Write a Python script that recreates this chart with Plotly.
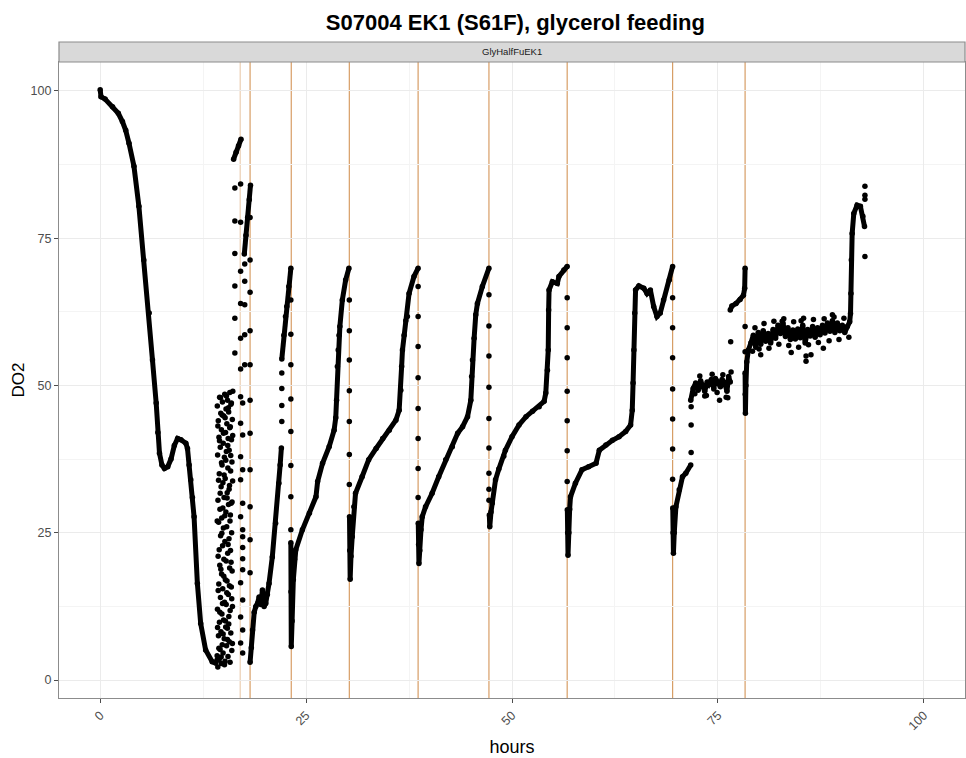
import plotly.graph_objects as go

# ---- Dissolved oxygen (DO2, %) against culture time (hours) ----

# batch phase: initial oxygen consumption and first glycerol depletion
batch_hours = [0.0, 0.1, 0.6, 1.5, 2.2, 2.7, 3.1, 3.5, 4.1, 4.7, 5.3, 5.95, 6.35, 6.8, 7.0, 7.2,
               7.5, 7.8, 8.2, 8.6, 9.0, 9.4, 9.8, 10.4, 10.6, 10.8, 11.0, 11.2, 11.4, 11.8, 12.2,
               12.8, 13.6, 14.0, 14.2]
batch_do2 = [100.2, 99.0, 98.6, 97.3, 96.2, 94.8, 93.3, 91.1, 87.2, 80.4, 71.3, 62.3, 54.3, 47.0, 42.0, 38.5,
             36.5, 35.9, 36.2, 37.5, 39.8, 41.0, 40.8, 40.2, 39.3, 36.5, 34.0, 31.0, 27.7, 16.4, 9.6,
             5.1, 3.1, 2.9, 3.4]

# unstable controller period before the first feed
noise_hours = [14.20, 14.22, 14.24, 14.26, 14.28, 14.30, 14.32, 14.34, 14.36, 14.38, 14.40, 14.42,
               14.44, 14.46, 14.48, 14.50, 14.52, 14.54, 14.56, 14.58, 14.60, 14.62, 14.64, 14.66,
               14.68, 14.70, 14.72, 14.74, 14.76, 14.78, 14.80, 14.82, 14.84, 14.86, 14.88, 14.90,
               14.92, 14.94, 14.96, 14.98, 15.00, 15.02, 15.04, 15.06, 15.08, 15.10, 15.12, 15.14,
               15.16, 15.18, 15.20, 15.22, 15.24, 15.26, 15.28, 15.30, 15.32, 15.34, 15.36, 15.38,
               15.40, 15.42, 15.44, 15.46, 15.48, 15.50, 15.52, 15.54, 15.56, 15.58, 15.60, 15.62,
               15.64, 15.66, 15.68, 15.70, 15.72, 15.74, 15.76, 15.78, 15.80, 15.82, 15.84, 15.86,
               15.88, 15.90, 15.92, 15.94, 15.96, 15.98, 16.00, 16.02, 16.04, 16.06, 16.08, 16.10,
               14.21, 14.25, 14.29, 14.33, 14.37, 14.41, 14.45, 14.49, 14.53, 14.57, 14.61, 14.65,
               14.69, 14.73, 14.77, 14.81, 14.85, 14.89, 14.93, 14.97, 15.01, 15.05, 15.09, 15.13,
               15.17, 15.21, 15.25, 15.29, 15.33, 15.37, 15.41, 15.45, 15.49, 15.53, 15.57, 15.61,
               15.65, 15.69, 15.73, 15.77, 15.81, 15.85, 15.89, 15.93, 15.97, 16.01, 16.05, 16.09]
noise_do2 = [4.1, 46.5, 12.0, 38.2, 2.2, 30.5, 21.0, 44.0, 7.5, 26.8, 16.3, 41.2,
             3.5, 35.0, 9.8, 48.0, 19.5, 29.0, 5.2, 39.5, 14.0, 24.5, 45.3, 8.2,
             32.8, 2.8, 42.5, 18.0, 27.5, 11.2, 36.5, 6.0, 47.2, 22.8, 15.5, 33.5,
             4.6, 40.2, 25.8, 10.2, 44.8, 20.5, 31.0, 7.0, 37.8, 13.2, 48.5, 23.5,
             3.2, 34.2, 17.0, 42.0, 9.0, 28.5, 46.0, 12.8, 38.8, 5.8, 26.0, 43.5,
             16.8, 31.8, 8.8, 47.5, 21.5, 36.0, 4.0, 41.0, 14.5, 29.8, 45.5, 10.8,
             24.0, 39.0, 6.5, 33.0, 19.0, 48.8, 27.0, 11.8, 43.0, 22.0, 35.5, 8.0,
             46.8, 30.0, 15.8, 40.8, 25.0, 5.0, 37.0, 18.5, 44.2, 12.5, 33.8, 49.0,
             27.0, 8.9, 43.1, 15.2, 33.9, 5.4, 22.1, 40.6, 11.5, 31.7, 47.9, 18.8,
             3.9, 36.9, 24.9, 45.0, 13.0, 29.2, 7.8, 41.9, 17.6, 34.8, 2.6, 27.9,
             44.5, 10.0, 37.3, 20.2, 48.2, 14.8, 30.9, 6.9, 39.8, 23.0, 46.2, 9.5,
             32.4, 16.0, 42.8, 3.0, 28.0, 38.1, 20.0, 47.0, 13.8, 30.2, 6.2, 41.5]

# saturation peaks around the first feeds
peak1_hours = [16.2, 16.5, 16.8, 17.1]
peak1_do2 = [88.4, 89.6, 90.7, 91.8]
peak2_hours = [17.5, 17.7, 17.9, 18.1, 18.25]
peak2_do2 = [72.3, 75.5, 78.5, 81.5, 84.0]

# fed-batch cycles (drop after each feed, recovery as glycerol runs out)
cyc1_hours = [18.2, 18.35, 18.5, 18.7, 18.9, 19.1, 19.3, 19.5, 19.7, 19.9, 20.1, 20.3, 20.5, 20.9,
              21.3, 21.7, 21.85, 22.0]
cyc1_do2 = [3.0, 5.5, 8.5, 11.5, 12.5, 13.0, 14.1, 12.8, 15.3, 12.5, 13.0, 14.5, 16.4, 20.9,
            26.6, 33.4, 36.5, 39.4]
cyc1b_hours = [22.05, 22.3, 22.5, 22.65, 22.9, 23.15]
cyc1b_do2 = [54.5, 58.5, 61.7, 63.4, 66.8, 69.9]

cyc2_hours = [23.15, 23.17, 23.2, 23.3, 23.45, 23.6, 23.75, 24.55, 25.4, 26.2, 26.4, 27.0, 27.8,
              28.4, 28.6, 28.7, 28.8, 28.9, 29.0, 29.1, 29.4, 29.8, 30.2]
cyc2_do2 = [23.3, 15.0, 5.7, 10.0, 17.0, 20.5, 22.1, 25.5, 28.3, 31.1, 33.7, 36.8, 39.6,
            42.4, 44.5, 47.5, 53.2, 56.0, 58.5, 60.0, 64.5, 67.9, 69.9]

cyc3_hours = [30.27, 30.3, 30.35, 30.45, 30.6, 30.8, 31.0, 31.8, 32.6, 33.5, 34.3, 35.1, 35.9,
              36.3, 36.5, 36.6, 36.7, 36.9, 37.1, 37.3, 37.5, 38.1, 38.6]
cyc3_do2 = [27.7, 22.0, 17.1, 21.0, 24.3, 29.4, 31.7, 34.5, 37.4, 39.3, 41.0, 42.4, 44.1,
            45.8, 49.2, 53.2, 56.0, 58.5, 61.0, 61.7, 65.6, 68.5, 69.9]

cyc4_hours = [38.62, 38.66, 38.7, 38.8, 38.95, 39.1, 39.5, 40.3, 41.1, 41.95, 42.75, 43.4, 44.0,
              44.6, 45.0, 45.1, 45.2, 45.4, 45.6, 45.8, 46.4, 47.2]
cyc4_do2 = [26.6, 23.0, 19.8, 22.0, 25.5, 27.7, 29.4, 31.7, 34.5, 37.4, 39.6, 41.9, 43.0,
            44.7, 47.5, 51.5, 54.3, 58.0, 62.0, 63.9, 66.8, 69.9]

cyc5_hours = [47.25, 47.3, 47.45, 47.6, 48.0, 48.4, 49.0, 49.2, 50.0, 50.85, 51.7, 52.5, 53.3,
              53.9, 54.1, 54.3, 54.4, 54.45, 54.5, 54.9, 55.5, 55.7, 56.3, 56.7]
cyc5_do2 = [28.0, 26.0, 28.5, 30.0, 34.0, 35.8, 38.0, 39.0, 41.3, 43.3, 44.7, 45.6, 46.4,
            47.3, 48.7, 52.6, 56.0, 62.8, 66.2, 67.6, 67.3, 68.5, 69.6, 70.2]

cyc6_hours = [56.72, 56.76, 56.8, 56.9, 57.0, 57.1, 57.7, 58.5, 59.3, 60.2, 60.6, 61.4, 62.2,
              63.0, 63.8, 64.4, 64.6, 64.7, 64.8, 64.9, 65.0, 65.4, 66.0, 66.4, 66.8, 67.2,
              67.6, 68.0, 68.4, 69.1, 69.5]
cyc6_do2 = [28.9, 25.0, 21.2, 25.0, 29.0, 31.1, 33.4, 35.7, 36.2, 36.8, 39.0, 39.9, 40.7,
            41.3, 42.2, 43.3, 45.8, 50.4, 56.0, 62.3, 66.2, 66.9, 66.5, 65.6, 66.2, 63.4,
            61.7, 62.3, 64.5, 67.9, 70.2]

cyc7_hours = [69.52, 69.56, 69.6, 69.7, 69.9, 70.3, 70.7, 71.1, 71.7]
cyc7_do2 = [29.2, 25.0, 21.5, 25.0, 29.4, 32.3, 34.5, 35.1, 36.5]

plateau1_hours = [71.7, 72.0, 72.3, 72.6, 72.9, 73.1, 73.4, 73.7, 73.9, 74.2, 74.5, 74.7, 75.0,
                  75.3, 75.5, 75.8, 76.1, 76.3, 76.5]
plateau1_do2 = [47.5, 49.5, 50.4, 49.2, 50.8, 50.0, 49.0, 50.6, 50.2, 51.0, 49.4, 51.2, 50.4,
                49.8, 51.0, 50.5, 49.0, 51.5, 50.6]

step_hours = [76.5, 76.7, 77.2, 77.7, 78.1, 78.25, 78.3]
step_do2 = [62.8, 63.5, 63.9, 64.6, 65.3, 66.5, 69.9]

plateau2_hours = [78.3, 78.32, 78.34, 78.4, 78.5, 78.7, 79.0, 79.3, 79.6, 79.9, 80.2, 80.5, 80.8,
                  81.1, 81.4, 81.7, 82.0, 82.3, 82.6, 82.9, 83.2, 83.5, 83.8, 84.1, 84.4, 84.7,
                  85.0, 85.3, 85.6, 85.9, 86.2, 86.5, 86.8, 87.1, 87.4, 87.7, 88.0, 88.3, 88.6,
                  88.9, 89.2, 89.5, 89.8, 90.1, 90.4, 90.7, 91.0, 91.1, 91.15, 91.2, 91.3, 91.5,
                  91.9, 92.3, 92.6, 92.8]
plateau2_do2 = [52.1, 48.5, 45.3, 50.0, 54.0, 56.0, 57.2, 58.5, 56.5, 59.0, 57.0, 59.3, 57.5,
                58.8, 57.2, 59.5, 58.0, 60.2, 58.8, 60.6, 58.3, 59.8, 57.8, 59.4, 57.9, 59.6,
                58.1, 60.2, 57.2, 59.5, 58.4, 60.0, 58.2, 59.8, 58.6, 60.2, 58.9, 60.6, 59.2,
                61.0, 59.0, 60.6, 59.3, 60.2, 59.0, 60.0, 60.8, 62.2, 65.6, 71.3, 75.8, 79.2,
                80.6, 80.4, 78.7, 77.0]

# isolated samples (fast transients right after feeds and sensor outliers)
spot_hours = ([16.35] * 6 + [17.05] * 14 + [17.3] * 12 + [17.55] * 5 + [18.2] * 11
              + [22.05] * 4 + [23.15] * 8 + [30.25] * 7 + [38.6] * 8 + [47.2] * 9
              + [56.7] * 7 + [69.5] * 7 + [71.75] * 3
              + [73.4, 76.0, 76.6, 76.55, 78.3, 78.3]
              + [72.2, 72.8, 73.6, 74.3, 74.9, 75.6, 76.2, 75.2]
              + [80.2, 85.7, 85.7, 87.8, 85.4, 88.9, 82.8, 92.85, 92.85, 92.85, 92.85]
              + [79.5, 80.0, 80.6, 81.2, 81.8, 82.4, 83.0, 83.6, 84.2, 84.8, 85.1, 86.0,
                 86.6, 87.2, 87.9, 88.5, 89.1, 89.7, 90.3, 90.9, 79.2, 83.9, 86.3])
spot_do2 = ([83.5, 77.9, 72.4, 66.9, 61.4, 55.5]
            + [84.2, 77.7, 69.4, 63.9, 58.0, 52.8, 48.1, 43.6, 37.9, 34.0, 27.7, 16.5, 10.7, 6.3]
            + [47.0, 41.6, 35.7, 30.0, 25.5, 24.3, 22.5, 20.6, 18.7, 13.6, 8.5, 4.6]
            + [70.6, 67.7, 63.7, 58.6, 53.5]
            + [78.5, 71.3, 65.8, 59.3, 53.5, 47.5, 41.9, 35.7, 29.4, 23.8, 18.2]
            + [43.9, 46.6, 49.5, 52.1]
            + [64.5, 58.7, 53.5, 47.7, 42.2, 36.4, 31.1, 25.5]
            + [64.5, 59.3, 54.3, 49.1, 43.9, 38.3, 33.2]
            + [66.8, 61.7, 56.6, 51.3, 46.1, 41.0, 35.9, 31.0]
            + [65.4, 60.1, 55.0, 49.7, 44.4, 39.4, 35.1, 32.4, 30.5]
            + [64.9, 59.8, 54.7, 49.0, 44.0, 38.9, 33.7]
            + [64.9, 59.8, 54.7, 49.4, 44.3, 39.2, 34.1]
            + [38.6, 43.3, 46.4]
            + [48.2, 48.0, 52.3, 57.4, 60.0, 55.7]
            + [48.6, 51.6, 48.3, 51.9, 48.8, 51.8, 47.9, 47.5]
            + [55.2, 54.1, 55.0, 56.3, 61.4, 62.0, 60.9, 83.8, 82.3, 81.6, 71.9]
            + [59.8, 56.2, 60.5, 56.3, 60.9, 57.0, 61.3, 56.8, 60.8, 56.5, 61.0, 56.9,
               61.2, 57.3, 61.3, 57.6, 61.6, 57.8, 61.4, 58.2, 55.8, 55.6, 55.2])

# glycerol feed events (hours)
feed_hours = [17.0, 18.2, 23.2, 30.25, 38.6, 47.2, 56.7, 69.5, 78.3]
feed_alpha = [0.4, 0.8, 0.8, 0.8, 0.8, 0.8, 0.8, 0.8, 0.8]

panel_label = "GlyHalfFuEK1"
title_text = "S07004 EK1 (S61F), glycerol feeding"
x_ticks = [0, 25, 50, 75, 100]
y_ticks = [0, 25, 50, 75, 100]

# join the densely sampled runs into one trace, split by gaps
runs = [(batch_hours, batch_do2), (peak1_hours, peak1_do2), (peak2_hours, peak2_do2),
        (cyc1_hours, cyc1_do2), (cyc1b_hours, cyc1b_do2), (cyc2_hours, cyc2_do2),
        (cyc3_hours, cyc3_do2), (cyc4_hours, cyc4_do2), (cyc5_hours, cyc5_do2),
        (cyc6_hours, cyc6_do2), (cyc7_hours, cyc7_do2), (plateau1_hours, plateau1_do2),
        (step_hours, step_do2), (plateau2_hours, plateau2_do2)]
run_x, run_y = [], []
for hx, hy in runs:
    run_x += list(hx) + [None]
    run_y += list(hy) + [None]

FONT = "Liberation Sans, Arial, Helvetica, sans-serif"
DOT = 5.5

fig = go.Figure()
fig.add_trace(go.Scatter(x=run_x, y=run_y, mode="lines+markers",
                         line=dict(color="black", width=5.0),
                         marker=dict(color="black", size=DOT),
                         connectgaps=False, hoverinfo="skip", showlegend=False))
fig.add_trace(go.Scatter(x=noise_hours, y=noise_do2, mode="markers",
                         marker=dict(color="black", size=DOT), showlegend=False))
fig.add_trace(go.Scatter(x=spot_hours, y=spot_do2, mode="markers",
                         marker=dict(color="black", size=DOT), showlegend=False))

# feed markers
for fx, fa in zip(feed_hours, feed_alpha):
    fig.add_shape(type="line", xref="x", yref="paper", x0=fx, x1=fx, y0=0, y1=1,
                  line=dict(color=f"rgba(205,133,63,{fa})", width=1.2), layer="between")

# facet strip above the panel
plot_h = 758 - 62 - 60
strip_h = 20 / plot_h
fig.add_shape(type="rect", xref="paper", yref="paper", x0=0, x1=1, y0=1, y1=1 + strip_h,
              fillcolor="#D9D9D9", line=dict(color="#8C8C8C", width=1.2))
fig.add_annotation(xref="paper", yref="paper", x=0.5, y=1 + strip_h / 2, text=panel_label,
                   showarrow=False, font=dict(family=FONT, size=9.5, color="#1A1A1A"),
                   yanchor="middle")

axis_common = dict(showline=True, mirror=True, linecolor="#8C8C8C", linewidth=1.2,
                   ticks="outside", ticklen=4, tickcolor="#4D4D4D", tickwidth=1,
                   gridcolor="#EBEBEB", gridwidth=1, zeroline=False,
                   tickfont=dict(family=FONT, size=12.5, color="#4D4D4D"))

fig.update_layout(
    width=966, height=758,
    margin=dict(l=59, r=1, t=62, b=60),
    paper_bgcolor="white", plot_bgcolor="white",
    title=dict(text=f"<b>{title_text}</b>", x=0.5335, xanchor="center",
               y=1 - 22 / 758, yanchor="middle", yref="container",
               font=dict(family="Liberation Sans Narrow, " + FONT, size=22, color="black")),
    xaxis=dict(range=[-5, 105], tickmode="array", tickvals=x_ticks, tickangle=-45,
               title=dict(text="hours", font=dict(family=FONT, size=18, color="black"), standoff=8),
               minor=dict(tickvals=[12.5, 37.5, 62.5, 87.5], showgrid=True,
                          gridcolor="#F4F4F4", gridwidth=0.6, ticklen=0),
               **axis_common),
    yaxis=dict(range=[-3.05, 104.9], tickmode="array", tickvals=y_ticks,
               title=dict(text="DO2", font=dict(family=FONT, size=17, color="black"), standoff=1),
               minor=dict(tickvals=[12.5, 37.5, 62.5, 87.5], showgrid=True,
                          gridcolor="#F4F4F4", gridwidth=0.6, ticklen=0),
               **axis_common),
)

fig.write_html("out.html")
